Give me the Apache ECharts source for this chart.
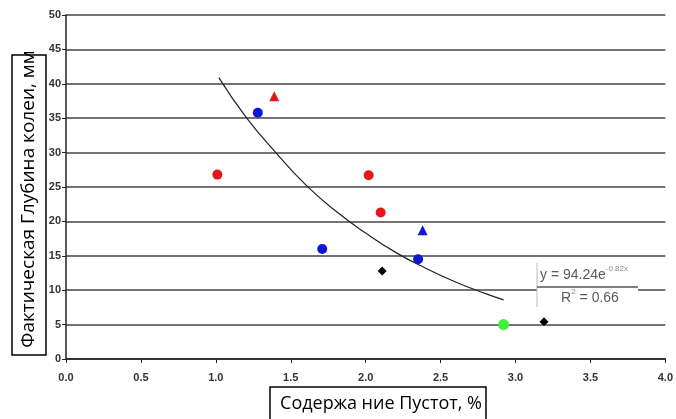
<!DOCTYPE html>
<html>
<head>
<meta charset="utf-8">
<script src="https://cdn.jsdelivr.net/npm/echarts@6/dist/echarts.min.js"></script>
<style>
  html, body { margin: 0; padding: 0; background: #fff; }
  #chart { width: 676px; height: 419px; }
</style>
</head>
<body>
<div id="chart"></div>
<script>
// данные: [содержание пустот %, глубина колеи мм]
const redCircles = [[1.01, 26.8], [2.02, 26.7], [2.10, 21.3]];
const blueCircles = [[1.28, 35.8], [1.71, 16.0], [2.35, 14.5]];
const redTriangles = [[1.39, 38.2]];
const blueTriangles = [[2.38, 18.7]];
const blackDiamonds = [[2.11, 12.8], [3.19, 5.4]];
const greenCircles = [[2.92, 5.0]];
// линия тренда, точки прочитаны с кривой
const trendX = [1.02, 1.2, 1.4, 1.6, 1.8, 2.0, 2.2, 2.4, 2.6, 2.8, 2.92];
const trendY = [40.9, 35.2, 30.0, 25.3, 21.5, 18.3, 15.5, 13.2, 11.2, 9.5, 8.6];

const xTicks = ['0.0', '0.5', '1.0', '1.5', '2.0', '2.5', '3.0', '3.5', '4.0'];

const chart = echarts.init(document.getElementById('chart'));

const tickFont = {
  fontFamily: 'Liberation Sans, Arial',
  fontSize: 11,
  fontWeight: 'bold',
  color: '#333'
};

function pointSeries(data, symbol, size, color) {
  return {
    type: 'scatter',
    data: data,
    symbol: symbol,
    symbolSize: size,
    itemStyle: {color: color, opacity: 1},
    z: 5
  };
}

chart.setOption({
  animation: false,
  grid: {left: 66, right: 7, top: 15, bottom: 60},
  xAxis: {
    type: 'value',
    min: 0,
    max: 4,
    interval: 0.5,
    axisLine: {show: true, onZero: false, lineStyle: {color: '#222', width: 1.5}},
    axisTick: {show: true, length: 4, lineStyle: {color: '#222'}},
    splitLine: {show: false},
    axisLabel: Object.assign({margin: 13, formatter: (v) => xTicks[Math.round(v * 2)]}, tickFont)
  },
  yAxis: {
    type: 'value',
    min: 0,
    max: 50,
    interval: 5,
    axisLine: {show: true, lineStyle: {color: '#222', width: 1.5}},
    axisTick: {show: true, length: 4, lineStyle: {color: '#222'}},
    splitLine: {show: true, lineStyle: {color: '#444', width: 1.6}},
    axisLabel: Object.assign({margin: 5}, tickFont)
  },
  series: [
    {
      type: 'line',
      data: trendX.map((x, i) => [x, trendY[i]]),
      smooth: true,
      showSymbol: false,
      lineStyle: {color: '#222', width: 1.2},
      z: 3
    },
    pointSeries(redCircles, 'circle', 10, '#e8161c'),
    pointSeries(blueCircles, 'circle', 10, '#0f17d6'),
    pointSeries(redTriangles, 'triangle', 10, '#e8161c'),
    pointSeries(blueTriangles, 'triangle', 10, '#0f17d6'),
    pointSeries(blackDiamonds, 'diamond', 9, '#000'),
    pointSeries(greenCircles, 'circle', 11, '#3ef03a')
  ],
  graphic: [
    // подпись оси Y в рамке
    {
      type: 'rect',
      shape: {x: 12, y: 55, width: 34, height: 300},
      style: {fill: '#fff', stroke: '#000', lineWidth: 1.5},
      z: 10
    },
    {
      type: 'text',
      x: 29,
      y: 199,
      rotation: Math.PI / 2,
      style: {
        text: 'Фактическая Глубина колеи, мм',
        fontFamily: 'Open Sans, Noto Sans',
        fontSize: 19,
        fill: '#000',
        align: 'center',
        verticalAlign: 'middle'
      },
      z: 11
    },
    // подпись оси X в рамке
    {
      type: 'rect',
      shape: {x: 270, y: 387, width: 216, height: 40},
      style: {fill: '#fff', stroke: '#000', lineWidth: 1.5},
      z: 10
    },
    {
      type: 'text',
      x: 381,
      y: 404,
      style: {
        text: 'Содержа ние Пустот, %',
        fontFamily: 'Open Sans, Noto Sans',
        fontSize: 18,
        fill: '#000',
        align: 'center',
        verticalAlign: 'middle'
      },
      z: 11
    },
    // уравнение тренда
    {
      type: 'rect',
      shape: {x: 537, y: 262, width: 101, height: 45},
      style: {fill: '#fff'},
      z: 8
    },
    {
      type: 'line',
      shape: {x1: 537, y1: 263, x2: 537, y2: 307},
      style: {stroke: '#bbb', lineWidth: 1},
      z: 9
    },
    {
      type: 'line',
      shape: {x1: 537, y1: 287, x2: 638, y2: 287},
      style: {stroke: '#555', lineWidth: 1.5},
      z: 9
    },
    {
      type: 'text',
      x: 540,
      y: 275,
      style: {
        text: '{m|y = 94.24e}{s|-0.82x}',
        verticalAlign: 'middle',
        rich: {
          m: {fontFamily: 'Liberation Sans, Arial', fontSize: 14, fill: '#5a5a5a'},
          s: {fontFamily: 'Liberation Sans, Arial', fontSize: 8, fill: '#888', padding: [0, 0, 12, 0]}
        }
      },
      z: 9
    },
    {
      type: 'text',
      x: 590,
      y: 298,
      style: {
        text: '{m|R}{s|2}{m| = 0.66}',
        align: 'center',
        verticalAlign: 'middle',
        rich: {
          m: {fontFamily: 'Liberation Sans, Arial', fontSize: 14, fill: '#5a5a5a'},
          s: {fontFamily: 'Liberation Sans, Arial', fontSize: 8, fill: '#888', padding: [0, 0, 12, 0]}
        }
      },
      z: 9
    }
  ]
});
</script>
</body>
</html>
